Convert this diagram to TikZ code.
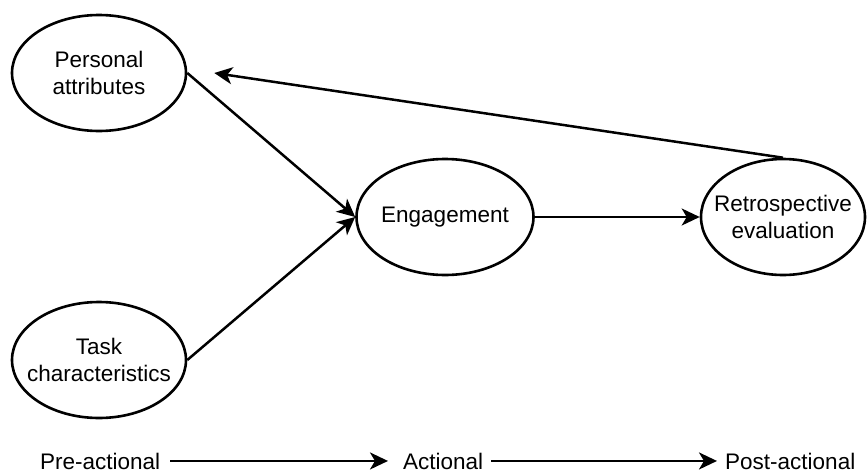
\documentclass[tikz,border=0pt]{standalone}
\usepackage{fontspec}
\setmainfont{Liberation Sans}
\usetikzlibrary{shapes.geometric,arrows.meta}
\begin{document}
\begin{tikzpicture}[x=1pt,y=-1pt,
  stage/.style={ellipse,draw,line width=2.6pt,inner sep=0pt,
    minimum height=116pt},
  caption/.style={inner sep=0pt,align=center,
    font=\fontsize{22.5}{27}\selectfont},
  phase/.style={inner sep=0pt,anchor=base west,font=\fontsize{22.5}{27}\selectfont},
  link/.style={line width=2.5pt,-{Stealth[length=18pt,width=17pt,inset=5pt]}}]
  \useasboundingbox (0,0) rectangle (868,474);

  % model stages (outline and caption drawn separately so the outline keeps its size)
  \node[stage,minimum width=174pt] (pa) at (99,73) {};
  \node[stage,minimum width=174pt] (tc) at (99,360) {};
  \node[stage,minimum width=177pt] (eng) at (445,217) {};
  \node[stage,minimum width=164pt] (ret) at (783,217) {};
  \node[caption] (paT) at (pa) {Personal\\attributes};
  \node[caption] (tcT) at (tc) {Task\\characteristics};
  \node[caption] (engT) at (eng) {Engagement};
  \node[caption] (retT) at (ret) {Retrospective\\evaluation};

  % feedback target beside the first stage
  \coordinate (fb) at ([xshift=27pt]pa.east);

  \draw[link] (pa.east) -- (eng.west);
  \draw[link] (tc.east) -- (eng.west);
  \draw[link] (eng.east) -- (ret.west);
  \draw[link] (ret.north) -- (fb);

  % phase timeline
  \node[phase] (pre) at (40,469) {Pre-actional};
  \node[phase] (act) at (403,469) {Actional};
  \node[phase] (post) at (725,469) {Post-actional};
  \draw[link,shorten <=10pt,shorten >=15pt] (pre.east) -- (act.west);
  \draw[link,shorten <=8pt,shorten >=8pt] (act.east) -- (post.west);
\end{tikzpicture}
\end{document}
